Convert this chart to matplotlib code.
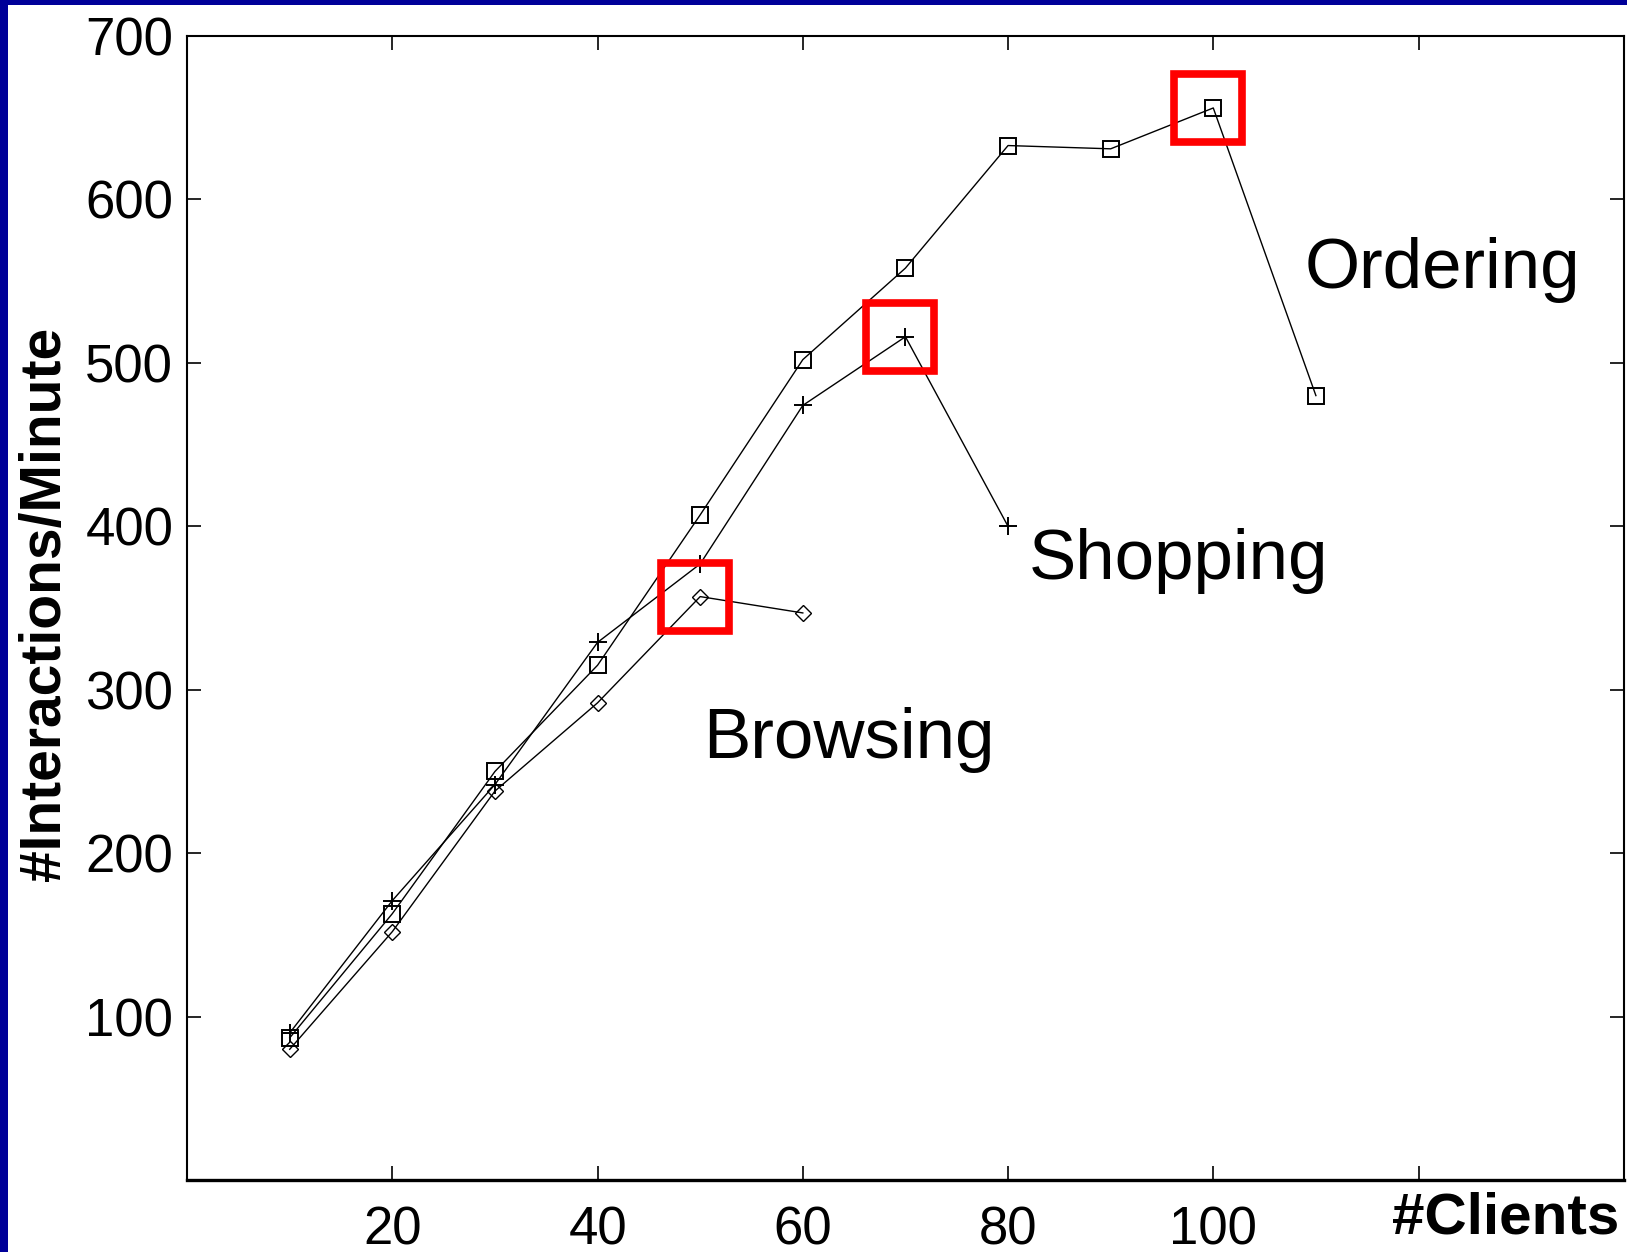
import numpy as np
import matplotlib
matplotlib.use("Agg")
import matplotlib.pyplot as plt
import matplotlib.transforms as mtransforms

# data
clients_ordering = [10, 20, 30, 40, 50, 60, 70, 80, 90, 100, 110]
ordering = [87, 163, 250, 315, 407, 502, 558, 633, 631, 656, 480]

clients_shopping = [10, 20, 30, 40, 50, 60, 70, 80]
shopping = [90, 171, 242, 329, 377, 474, 516, 400]

clients_browsing = [10, 20, 30, 40, 50, 60]
browsing = [80, 152, 238, 292, 357, 347]

xticks = [20, 40, 60, 80, 100, 120]
xticklabels = ['20', '40', '60', '80', '100', '']
yticks = [100, 200, 300, 400, 500, 600, 700]

plt.rcParams['font.family'] = ['Liberation Sans', 'DejaVu Sans']

fig = plt.figure(figsize=(16.27, 12.52), dpi=100, facecolor='#000099')

# white panel inside the blue frame
bg = fig.add_axes([0.005, 0, 0.995, 0.996], zorder=-1)
bg.set_facecolor('white')
bg.set_xticks([])
bg.set_yticks([])
for s in bg.spines.values():
    s.set_visible(False)

ax = fig.add_axes([0.115, 0.0575, 0.883, 0.9137])
ax.set_facecolor('white')

ax.plot(clients_ordering, ordering, '-', color='black', lw=1.0,
        marker='s', ms=12, mfc='none', mec='black', mew=1.4)
ax.plot(clients_shopping, shopping, '-', color='black', lw=1.0,
        marker='+', ms=13, mec='black', mew=1.4)
ax.plot(clients_browsing, browsing, '-', color='black', lw=1.0,
        marker='D', ms=8.5, mfc='none', mec='black', mew=1.0)

# red boxes round the peak of each series (drawn slightly left, as in the slide)
shift = ax.transData + mtransforms.ScaledTranslation(-5 / 100, 0, fig.dpi_scale_trans)
for xs, ys in [(clients_browsing, browsing), (clients_shopping, shopping),
               (clients_ordering, ordering)]:
    i = int(np.argmax(ys))
    ax.plot(xs[i], ys[i], 's', ms=49, mfc='none', mec='#ff0000', mew=5.5,
            zorder=5, transform=shift)

ax.text(108.9, 557, 'Ordering', fontsize=51, ha='left', va='center')
ax.text(82.0, 379, 'Shopping', fontsize=51, ha='left', va='center')
ax.text(50.3, 269, 'Browsing', fontsize=51, ha='left', va='center')

ax.set_xlim(0, 140)
ax.set_ylim(0, 700)
ax.set_xticks(xticks)
ax.set_xticklabels(xticklabels)
ax.set_yticks(yticks)
ax.tick_params(direction='in', top=True, right=True, length=10, width=1.2,
               labelsize=38, colors='black')
ax.tick_params(axis='x', pad=18)
ax.tick_params(axis='y', pad=10)

for s in ax.spines.values():
    s.set_linewidth(1.5)
ax.spines['bottom'].set_linewidth(2.4)

fig.text(0.995, 0.0264, '#Clients', fontsize=42, fontweight='bold',
         ha='right', va='center')
fig.text(0.0275, 0.518, '#Interactions/Minute', fontsize=41, fontweight='bold',
         rotation=90, ha='center', va='center')

fig.savefig('out.png', dpi=100, facecolor=fig.get_facecolor())
